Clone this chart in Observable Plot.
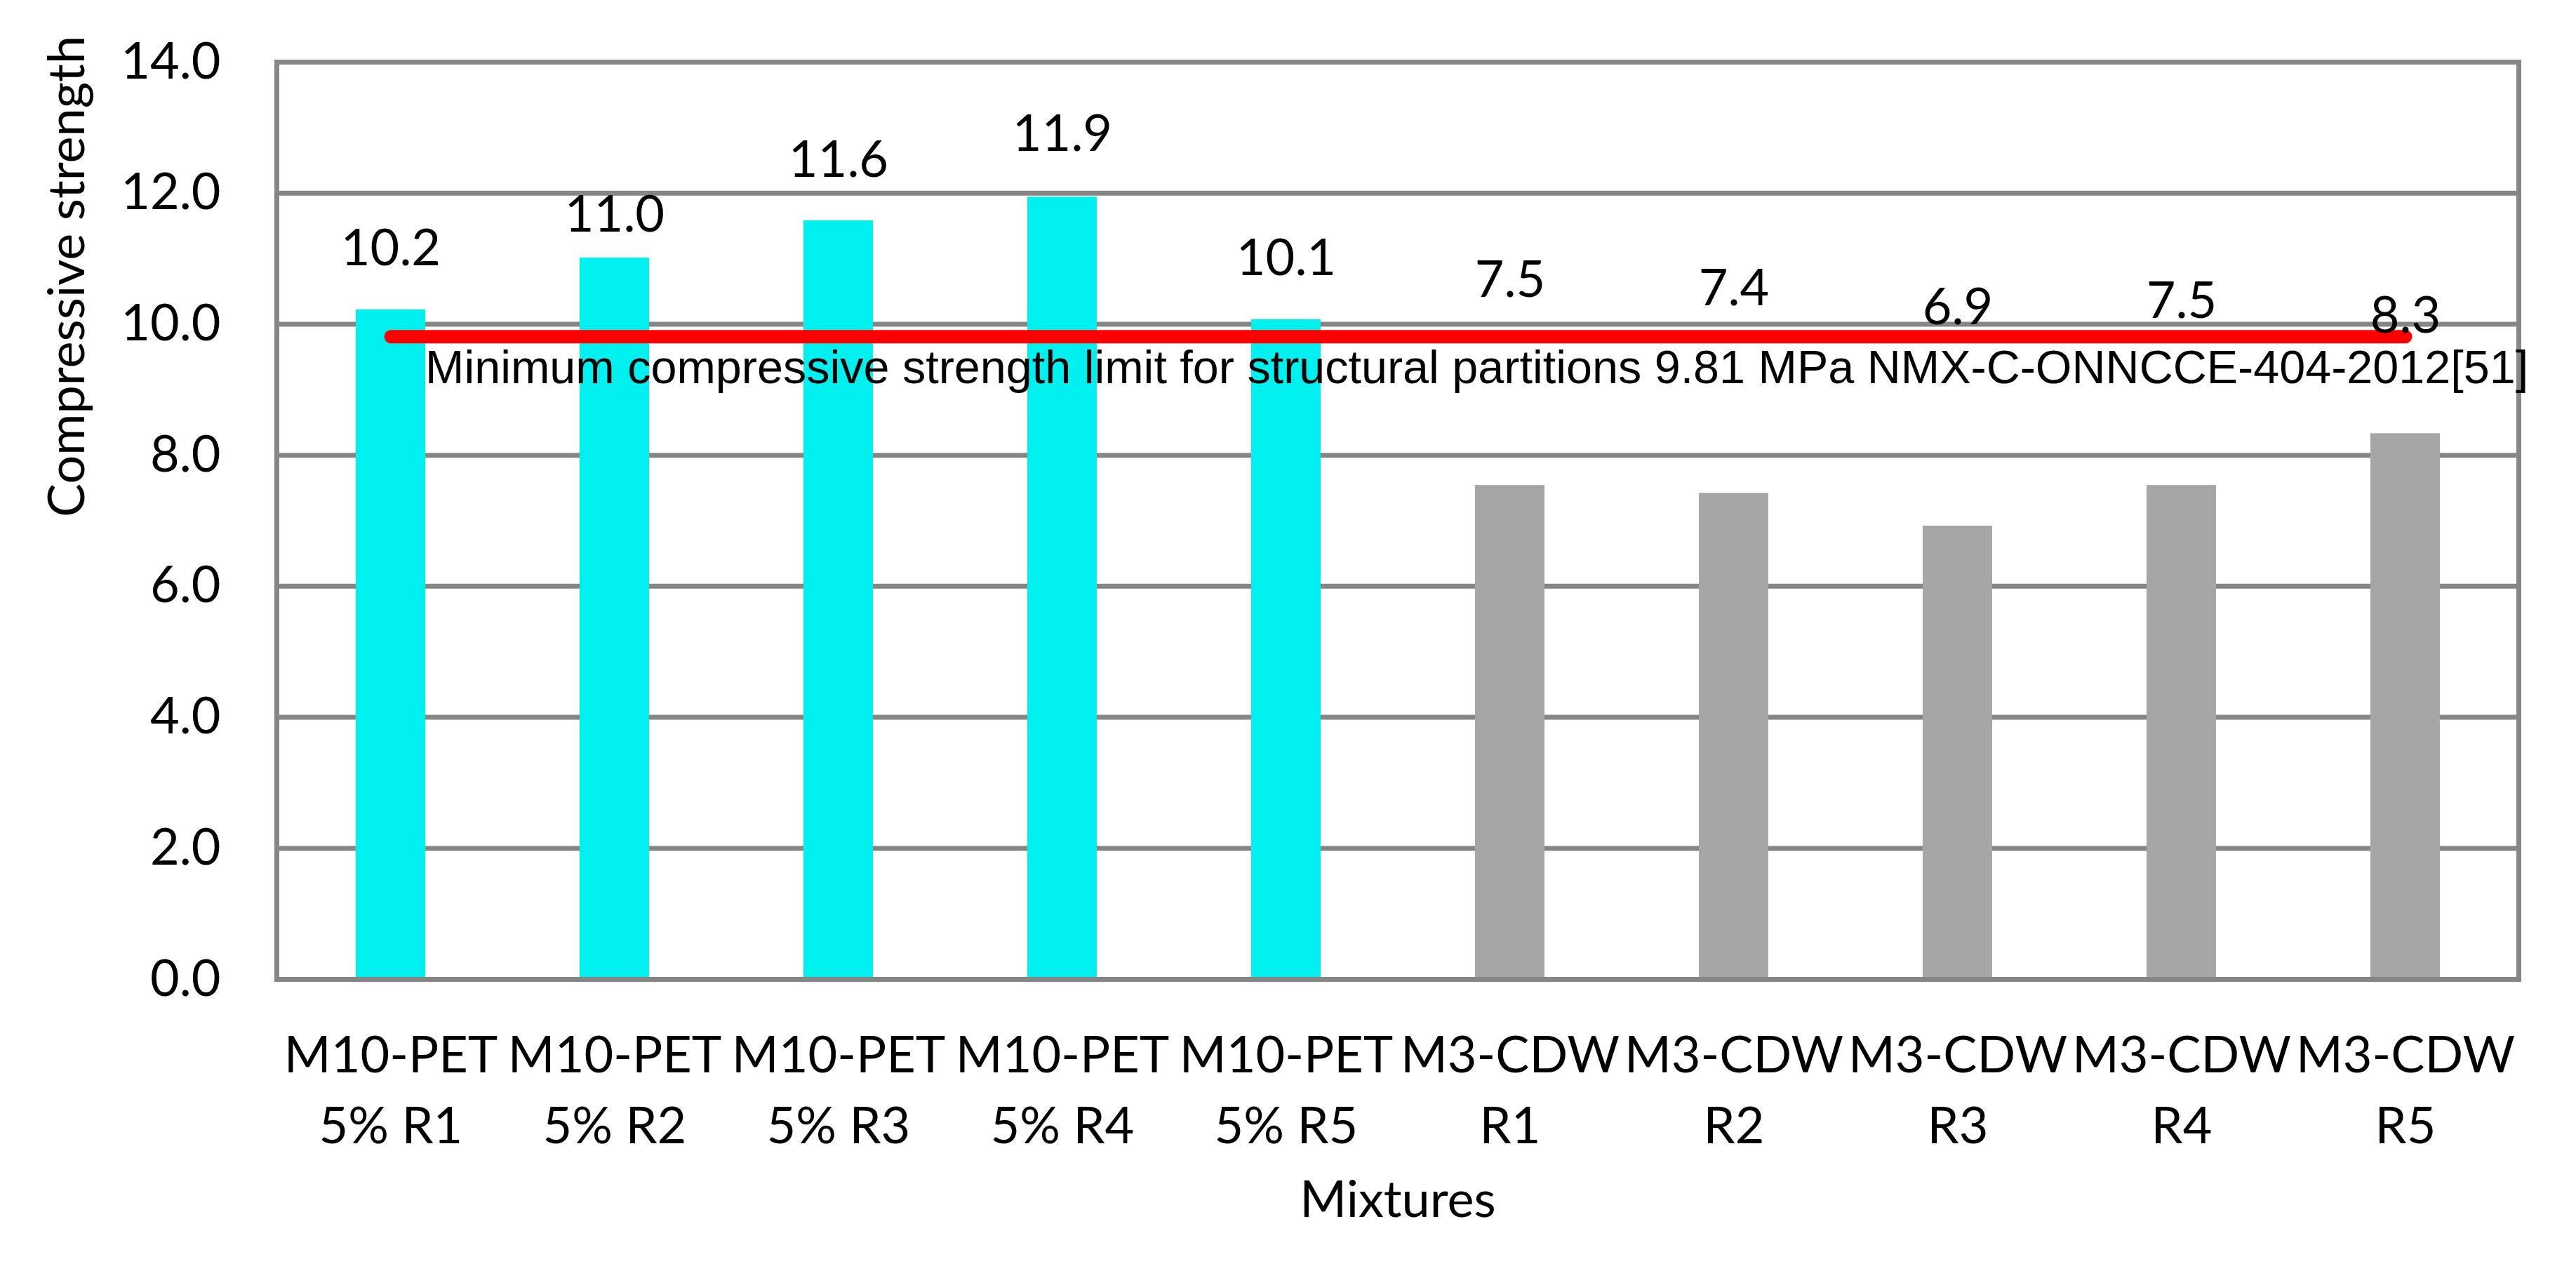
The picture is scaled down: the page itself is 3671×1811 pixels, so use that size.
<!DOCTYPE html>
<html>
<head>
<meta charset="utf-8">
<script src="https://cdn.jsdelivr.net/npm/d3@7"></script>
<script src="https://cdn.jsdelivr.net/npm/@observablehq/plot@0.6"></script>
<style>
  html, body { margin: 0; padding: 0; background: #ffffff; }
</style>
</head>
<body>
<div id="chart"></div>
<script>
// ---- data ----
const categories = [
  "M10-PET 5% R1", "M10-PET 5% R2", "M10-PET 5% R3", "M10-PET 5% R4", "M10-PET 5% R5",
  "M3-CDW R1", "M3-CDW R2", "M3-CDW R3", "M3-CDW R4", "M3-CDW R5"
];
const series = [
  "M10-PET 5%", "M10-PET 5%", "M10-PET 5%", "M10-PET 5%", "M10-PET 5%",
  "M3-CDW", "M3-CDW", "M3-CDW", "M3-CDW", "M3-CDW"
];
const strength = [10.22, 11.01, 11.58, 11.94, 10.07, 7.54, 7.42, 6.92, 7.54, 8.33];
// value (in MPa units) at which each data label sits in the reference
const labelAt = [11.15, 11.66, 12.50, 12.89, 11.00, 10.66, 10.54, 10.25, 10.34, 10.12];
const yTicks = [0, 2, 4, 6, 8, 10, 12, 14];
const limitValue = 9.81;
const limitText = "Minimum compressive strength limit for structural partitions 9.81 MPa NMX-C-ONNCCE-404-2012[51]";
const xTitle = "Mixtures";
const yTitle = "Compressive strength";
const seriesNames = ["M10-PET 5%", "M3-CDW"];
const seriesColors = ["#00EFEF", "#A6A6A6"];

// ---- tables built from the arrays ----
const rows = categories.map((c, i) => ({
  category: c, series: series[i], strength: strength[i], labelY: labelAt[i]
}));
const limitRows = [
  {category: categories[0], v: limitValue},
  {category: categories[categories.length - 1], v: limitValue}
];
const fmt = d3.format(".1f");

const chart = Plot.plot({
  width: 3671,
  height: 1811,
  marginLeft: 394,
  marginRight: 82,
  marginTop: 88,
  marginBottom: 416,
  style: {fontFamily: "Lato", fontSize: "72px", color: "#000000", background: "#ffffff", overflow: "visible"},
  x: {domain: categories, padding: 0, label: null},
  y: {domain: [0, 14], label: null},
  color: {domain: seriesNames, range: seriesColors},
  marks: [
    Plot.gridY(yTicks, {stroke: "#868686", strokeOpacity: 1, strokeWidth: 7}),
    Plot.barY(rows, {x: "category", y: "strength", fill: "series", insetLeft: 110, insetRight: 110}),
    Plot.frame({stroke: "#868686", strokeWidth: 7}),
    Plot.axisY(yTicks, {tickFormat: fmt, tickSize: 0, tickPadding: 80, fontSize: 72, label: null, fill: "#000"}),
    Plot.axisX({tickSize: 0, tickPadding: 61, tickFormat: d => d.replace(" ", "\n"), lineHeight: 1.4, fontSize: 72, label: null, fill: "#000"}),
    Plot.line(limitRows, {x: "category", y: "v", stroke: "#FF0000", strokeWidth: 19, strokeLinecap: "round"}),
    Plot.text([limitRows[0]], {
      x: "category", y: "v", text: () => limitText,
      textAnchor: "start", lineAnchor: "top", dx: 49, dy: 19,
      fontFamily: "Liberation Sans, Arial, sans-serif", fontSize: 66.5, fill: "#000"
    }),
    Plot.text(rows, {x: "category", y: "labelY", text: d => fmt(d.strength), fontSize: 72, fill: "#000"}),
    Plot.text([yTitle], {frameAnchor: "left", text: d => d, rotate: -90, dx: -298, dy: -5, fontSize: 72, fill: "#000"}),
    Plot.text([xTitle], {frameAnchor: "bottom", text: d => d, dy: 338, fontSize: 72, fill: "#000"})
  ]
});

document.getElementById("chart").appendChild(chart);
</script>
</body>
</html>
